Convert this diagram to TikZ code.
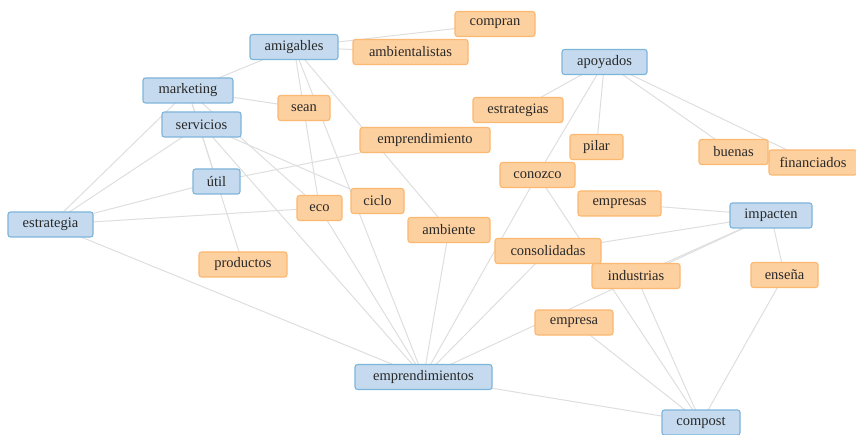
\documentclass[tikz,border=0pt]{standalone}
\usepackage{fontspec}
\setmainfont{Liberation Serif}
\usetikzlibrary{backgrounds}
\definecolor{bfill}{RGB}{197,218,238}
\definecolor{bdraw}{RGB}{125,180,218}
\definecolor{ofill}{RGB}{253,208,160}
\definecolor{odraw}{RGB}{251,184,112}
\definecolor{edgec}{RGB}{222,222,222}
\definecolor{txt}{RGB}{40,40,40}
\begin{document}
\begin{tikzpicture}[x=1pt,y=-1pt,
  wbox/.style={rounded corners=2.5pt,line width=1.1pt,minimum height=25pt,inner sep=0pt,
    text=txt,font=\fontsize{14.5}{15}\selectfont},
  kw/.style={wbox,fill=bfill,draw=bdraw},
  tw/.style={wbox,fill=ofill,draw=odraw},
  lnk/.style={draw=edgec,line width=1pt}]
\useasboundingbox (0,0) rectangle (856,435);
\node[kw,minimum width=88pt]  (amigables) at (294,47) {amigables};
\node[tw,minimum width=80pt]  (compran) at (495,24) {compran};
\node[tw,minimum width=115pt] (ambientalistas) at (410.5,52) {ambientalistas};
\node[kw,minimum width=85pt]  (apoyados) at (604.5,62) {apoyados};
\node[kw,minimum width=90pt]  (marketing) at (188,90.5) {marketing};
\node[kw,minimum width=79pt]  (servicios) at (201.5,124.5) {servicios};
\node[tw,minimum width=52pt]  (sean) at (304,108) {sean};
\node[tw,minimum width=90pt]  (estrategias) at (518,110) {estrategias};
\node[tw,minimum width=130pt] (emprendimiento) at (425,140) {emprendimiento};
\node[tw,minimum width=53pt]  (pilar) at (596.5,147) {pilar};
\node[tw,minimum width=69pt]  (buenas) at (733.5,152) {buenas};
\node[tw,minimum width=88pt]  (financiados) at (813,162.5) {financiados};
\node[tw,minimum width=75pt]  (conozco) at (537.5,175) {conozco};
\node[kw,minimum width=47pt]  (util) at (216.5,181.5) {útil};
\node[tw,minimum width=53pt]  (ciclo) at (377.5,201) {ciclo};
\node[tw,minimum width=45pt]  (eco) at (319.5,208) {eco};
\node[tw,minimum width=83pt]  (empresas) at (619.5,203.5) {empresas};
\node[kw,minimum width=82pt]  (impacten) at (771,215.5) {impacten};
\node[kw,minimum width=85pt]  (estrategia) at (50.5,224.5) {estrategia};
\node[tw,minimum width=82pt]  (ambiente) at (449,230) {ambiente};
\node[tw,minimum width=106pt] (consolidadas) at (548,251) {consolidadas};
\node[tw,minimum width=88pt]  (productos) at (243,264.5) {productos};
\node[tw,minimum width=88pt]  (industrias) at (636,276) {industrias};
\node[tw,minimum width=67pt]  (ensena) at (784.5,275) {enseña};
\node[tw,minimum width=78pt]  (empresa) at (574,322.5) {empresa};
\node[kw,minimum width=137pt] (emprendimientos) at (423.5,377) {emprendimientos};
\node[kw,minimum width=78pt]  (compost) at (701,422.5) {compost};
\begin{scope}[on background layer]
\foreach \a/\b in {amigables/compran, amigables/ambientalistas, amigables/marketing,
  amigables/eco, amigables/ambiente, amigables/emprendimientos,
  marketing/sean, marketing/estrategia, marketing/util, marketing/productos, marketing/eco,
  servicios/estrategia, servicios/ciclo, servicios/emprendimientos,
  util/estrategia, util/emprendimiento, estrategia/eco, estrategia/emprendimientos,
  eco/emprendimientos, ambiente/emprendimientos, conozco/emprendimientos,
  apoyados/conozco, conozco/compost, apoyados/estrategias, apoyados/pilar,
  apoyados/buenas, apoyados/financiados, empresas/impacten, impacten/consolidadas,
  impacten/industrias, impacten/emprendimientos, impacten/ensena, ensena/compost,
  industrias/compost, empresa/compost, consolidadas/emprendimientos,
  emprendimientos/compost}
  \draw[lnk] (\a.center) -- (\b.center);
\end{scope}
\end{tikzpicture}
\end{document}
